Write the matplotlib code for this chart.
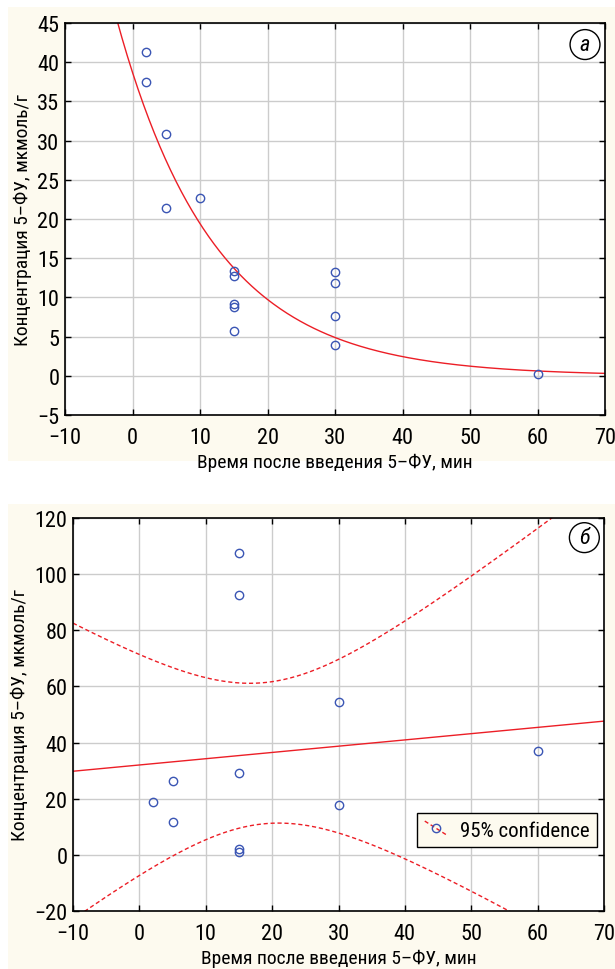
import numpy as np
import matplotlib.pyplot as plt
from matplotlib import font_manager as fm
from matplotlib.patches import Rectangle
from matplotlib.lines import Line2D
from matplotlib.legend_handler import HandlerBase

# pick a narrow face if one is installed
names = {f.name for f in fm.fontManager.ttflist}
narrow = [n for n in ['Liberation Sans Narrow', 'DejaVu Sans Condensed',
                      'Roboto Condensed', 'Open Sans Condensed'] if n in names]
plt.rcParams['font.family'] = narrow + ['DejaVu Sans']
fs = 14 if narrow else 12

# ==================== DATA ====================
# panel a: concentration vs time, exponential fit
time_a = [2, 2, 5, 5, 10, 15, 15, 15, 15, 15, 30, 30, 30, 30, 60]
conc_a = [41.3, 37.5, 30.8, 21.4, 22.7, 13.4, 12.7, 9.1, 8.8, 5.7,
          13.2, 11.9, 7.65, 3.9, 0.26]
exp_A = 38.7      # fitted amplitude
exp_k = 0.069     # fitted decay rate, 1/min

# panel b: concentration vs time, linear fit + 95% confidence band
time_b = [2, 5, 5, 15, 15, 15, 15, 15, 30, 30, 60]
conc_b = [19.0, 26.3, 11.8, 107.6, 92.4, 29.0, 2.1, 1.0, 54.3, 17.9, 37.0]
t_crit = 2.262    # Student t, df = 9, 95%

xlabel = 'Время после введения 5–ФУ, мин'
ylabel = 'Концентрация 5–ФУ, мкмоль/г'

# ==================== STYLE ====================
cream = '#fdfaef'
red = '#ec1e26'
blue = '#3a55b4'
grid_c = '#cccccc'

fig = plt.figure(figsize=(6.15, 9.70), dpi=100)
fig.patch.set_facecolor('white')
fig.patches.append(Rectangle((8/615, 1 - 462/970), 607/615, 454/970,
                             transform=fig.transFigure, facecolor=cream,
                             edgecolor='none', zorder=-10))
fig.patches.append(Rectangle((8/615, 0), 607/615, 1 - 505/970,
                             transform=fig.transFigure, facecolor=cream,
                             edgecolor='none', zorder=-10))


def style_axes(ax):
    ax.set_facecolor('white')
    ax.grid(True, color=grid_c, lw=1.0)
    ax.set_axisbelow(True)
    ax.tick_params(direction='in', length=4, width=1, top=True, right=True,
                   labelsize=fs + 2)
    ax.tick_params(axis='x', pad=9)
    ax.tick_params(axis='y', pad=4)
    for s in ax.spines.values():
        s.set_linewidth(1.2)
    ax.set_xlabel(xlabel, fontsize=fs, labelpad=3)
    ax.set_ylabel(ylabel, fontsize=fs, labelpad=4)


def panel_letter(ax, letter, x, y):
    ax.text(x, y, letter, transform=ax.transAxes, fontsize=fs + 2,
            style='italic', ha='center', va='center',
            bbox=dict(boxstyle='circle,pad=0.2', fc='white', ec='black', lw=1))


class DiagHandler(HandlerBase):
    def create_artists(self, legend, orig_handle, xdescent, ydescent,
                       width, height, fontsize, trans):
        ln = Line2D([0, width], [height * 1.0, 0], color=red,
                    ls='--', lw=1, dashes=(3, 2), transform=trans)
        mk = Line2D([width * 0.5], [height * 0.5], ls='none', marker='o',
                    ms=6, mfc='none', mec=blue, mew=1, transform=trans)
        return [ln, mk]


# ==================== PANEL A ====================
ax1 = fig.add_axes([65/615, 1 - 416/970, 540/615, 392/970])
xs = np.linspace(-10, 70, 400)
ax1.plot(xs, exp_A * np.exp(-exp_k * xs), color=red, lw=1.0)
ax1.plot(time_a, conc_a, ls='none', marker='o', ms=6, mfc='none',
         mec=blue, mew=1.0)
ax1.set_xlim(-10, 70)
ax1.set_ylim(-5, 45)
ax1.set_xticks(np.arange(-10, 71, 10))
ax1.set_yticks(np.arange(-5, 46, 5))
style_axes(ax1)
panel_letter(ax1, 'a', 0.963, 0.945)

# ==================== PANEL B ====================
ax2 = fig.add_axes([73/615, 1 - 912/970, 531/615, 393/970])
xb = np.array(time_b, float)
yb = np.array(conc_b, float)
n = len(xb)
slope, icpt = np.polyfit(xb, yb, 1)
resid = yb - (slope * xb + icpt)
s = np.sqrt(np.sum(resid ** 2) / (n - 2))
sxx = np.sum((xb - xb.mean()) ** 2)
fit = slope * xs + icpt
half = t_crit * s * np.sqrt(1 / n + (xs - xb.mean()) ** 2 / sxx)

ax2.plot(xs, fit, color=red, lw=1.0)
ax2.plot(xs, fit + half, color=red, lw=1.0, ls='--', dashes=(3, 2))
ax2.plot(xs, fit - half, color=red, lw=1.0, ls='--', dashes=(3, 2))
ax2.plot(time_b, conc_b, ls='none', marker='o', ms=6, mfc='none',
         mec=blue, mew=1.0)
ax2.set_xlim(-10, 70)
ax2.set_ylim(-20, 120)
ax2.set_xticks(np.arange(-10, 71, 10))
ax2.set_yticks(np.arange(-20, 121, 20))
style_axes(ax2)
panel_letter(ax2, 'б', 0.963, 0.95)

proxy = Line2D([], [], color=red)
leg = ax2.legend([proxy], ['95% confidence'], handler_map={Line2D: DiagHandler()},
                 loc='lower right', bbox_to_anchor=(0.987, 0.163),
                 borderaxespad=0, fontsize=fs + 1,
                 frameon=True, fancybox=False, borderpad=0.35,
                 handlelength=1.1, handletextpad=0.6)
leg.get_frame().set_edgecolor('black')
leg.get_frame().set_facecolor(cream)
leg.get_frame().set_alpha(1)
leg.get_frame().set_linewidth(1)

fig.savefig('out.png', dpi=100, facecolor=fig.get_facecolor())
